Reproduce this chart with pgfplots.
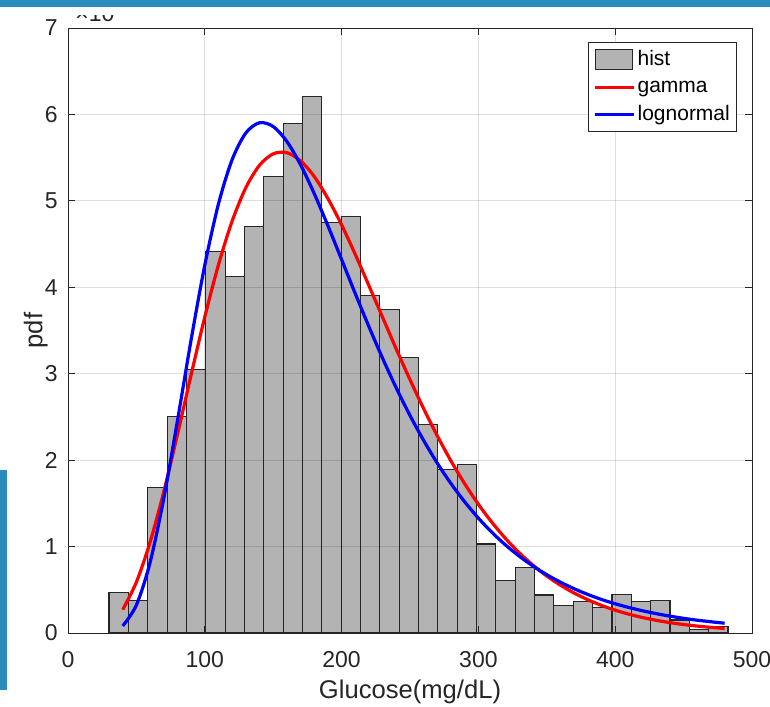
\documentclass[border=0pt]{standalone}
\usepackage{fontspec}
\setmainfont{Liberation Sans}
\usepackage{pgfplots}
\pgfplotsset{compat=1.18}

\definecolor{histgray}{RGB}{179,179,179}
\definecolor{axisgray}{RGB}{38,38,38}
\definecolor{shotblue}{RGB}{42,140,188}

\begin{document}
\begin{tikzpicture}
\begin{axis}[
  name=ax,
  scale only axis,
  width=342pt, height=302.5pt,
  xmin=0, xmax=500, ymin=0, ymax=7,
  xtick={0,100,200,300,400,500},
  ytick={0,1,2,3,4,5,6,7},
  tick pos=both,
  tick align=inside,
  major tick length=3.5pt,
  axis line style={draw=axisgray, line width=0.5pt},
  tick style={draw=axisgray, line width=0.5pt},
  axis on top,
  grid=major,
  grid style={draw=black, opacity=0.13, line width=0.5pt},
  /pgf/number format/assume math mode=true,
  tick label style={font=\fontsize{11.5}{13}\selectfont, text=axisgray},
  xticklabel style={anchor=base, inner sep=0pt, yshift=-17.2pt},
  yticklabel style={anchor=east, inner sep=0pt, xshift=-5pt},
  xlabel={Glucose(mg/dL)},
  ylabel={pdf},
  every axis x label/.style={at={(axis description cs:0.5,0)}, anchor=base,
      yshift=-32.5pt, font=\fontsize{12.8}{14}\selectfont, text=axisgray},
  every axis y label/.style={at={(axis description cs:-0.047,0.5)}, rotate=90,
      anchor=center, font=\fontsize{12.8}{14}\selectfont, text=axisgray},
  legend style={at={(0.978,0.977)}, anchor=north east, draw=axisgray,
                line width=0.5pt, fill=white,
                font=\fontsize{10.5}{12}\selectfont,
                inner xsep=2.5pt, inner ysep=3.3pt, row sep=3.45pt,
                nodes={inner xsep=0.8pt, inner ysep=0pt, text height=7.9pt, text depth=2.4pt}},
  legend cell align=left,
]
% histogram (bin edges 30 + 14.14 k)
\addplot[ybar interval, fill=histgray, draw=black!85, line width=0.55pt,
  legend image code/.code={\draw[fill=histgray, draw=black!85, line width=0.55pt] (0pt,-5pt) rectangle (18.5pt,5pt);}]
  coordinates {
  (30.00,0.47) (44.14,0.38) (58.28,1.68) (72.42,2.51) (86.56,3.05)
  (100.70,4.41) (114.84,4.12) (128.98,4.70) (143.12,5.28) (157.26,5.90)
  (171.40,6.21) (185.54,4.75) (199.68,4.82) (213.82,3.91) (227.96,3.74)
  (242.10,3.19) (256.24,2.41) (270.38,1.89) (284.52,1.95) (298.66,1.03)
  (312.80,0.61) (326.94,0.76) (341.08,0.44) (355.22,0.32) (369.36,0.36)
  (383.50,0.29) (397.64,0.45) (411.78,0.36) (425.92,0.38) (440.06,0.15)
  (454.20,0.04) (468.34,0.08) (482.48,0.08)};
\addlegendentry{hist}
% gamma fit
\addplot[red, line width=1.6pt, smooth,
  legend image code/.code={\draw[red, line width=1.6pt] (0pt,0pt) -- (19.5pt,0pt);}]
  coordinates {
  (40,0.270) (50,0.589) (60,1.051) (70,1.634) (80,2.296) (90,2.987)
  (100,3.657) (110,4.261) (120,4.767) (130,5.153) (140,5.412) (150,5.544)
  (160,5.558) (170,5.463) (180,5.282) (190,5.027) (200,4.722) (210,4.380)
  (220,4.018) (230,3.651) (240,3.284) (250,2.931) (260,2.595) (270,2.280)
  (280,1.990) (290,1.727) (300,1.489) (310,1.278) (320,1.090) (330,0.926)
  (340,0.783) (350,0.659) (360,0.553) (370,0.462) (380,0.385) (390,0.319)
  (400,0.264) (410,0.218) (420,0.179) (430,0.147) (440,0.120) (450,0.098)
  (460,0.080) (470,0.065) (480,0.052)};
\addlegendentry{gamma}
% lognormal fit
\addplot[blue, line width=1.6pt, smooth,
  legend image code/.code={\draw[blue, line width=1.6pt] (0pt,0pt) -- (19.5pt,0pt);}]
  coordinates {
  (40,0.082) (50,0.323) (60,0.816) (70,1.556) (80,2.455) (90,3.393)
  (100,4.257) (110,4.965) (120,5.478) (130,5.786) (140,5.904) (150,5.860)
  (160,5.687) (170,5.418) (180,5.084) (190,4.712) (200,4.321) (210,3.927)
  (220,3.544) (230,3.177) (240,2.834) (250,2.517) (260,2.227) (270,1.964)
  (280,1.728) (290,1.517) (300,1.329) (310,1.162) (320,1.016) (330,0.887)
  (340,0.774) (350,0.674) (360,0.588) (370,0.512) (380,0.446) (390,0.388)
  (400,0.338) (410,0.295) (420,0.257) (430,0.224) (440,0.195) (450,0.170)
  (460,0.148) (470,0.130) (480,0.113)};
\addlegendentry{lognormal}
\end{axis}
% axis exponent, mostly hidden under the top edge as in the screenshot
\node[anchor=south west, font=\fontsize{11.5}{13}\selectfont, text=axisgray,
      inner sep=0pt, xshift=3.5pt, yshift=3pt] at (ax.north west) {×10\textsuperscript{-3}};
% edges of the screenshot frame
\fill[white] (-34pt,309pt) rectangle (351pt,313pt);
\fill[shotblue] (-34pt,313pt) rectangle (351pt,317pt);
\fill[shotblue] (-34pt,-28.5pt) rectangle (-30.5pt,81.5pt);
\pgfresetboundingbox
\useasboundingbox (-34pt,-36.5pt) rectangle (351pt,316.5pt);
\end{tikzpicture}
\end{document}
